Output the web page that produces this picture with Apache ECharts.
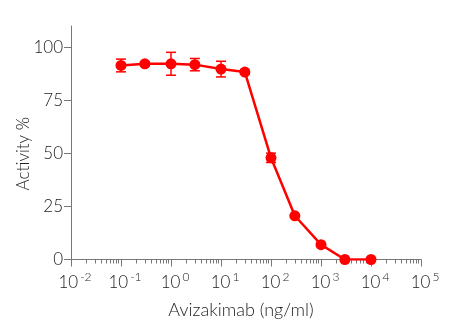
<!DOCTYPE html>
<html>
<head>
<meta charset="utf-8">
<script src="https://cdn.jsdelivr.net/npm/echarts@6/dist/echarts.min.js"></script>
<style>
html,body{margin:0;padding:0;background:#fff;}
#c{width:450px;height:332px;}
</style>
</head>
<body>
<div id="c"></div>
<script>
// Data
var concentrations = [0.1, 0.3, 1, 3, 10, 30, 100, 300, 1000, 3000, 10000];
var activity = [91.4, 92.2, 92.2, 91.8, 89.7, 88.3, 47.9, 20.6, 7.0, 0, 0];
var errors = [3.0, 1.0, 5.4, 2.9, 3.7, 1.0, 2.2, 0.5, 0.5, 0, 0];
var yTicks = [0, 25, 50, 75, 100];
var xMajorTicks = [0.01, 0.1, 1, 10, 100, 1000, 10000, 100000];
var xMinorTicks = [];
for (var d = -2; d < 5; d++) {
  for (var m = 2; m <= 9; m++) xMinorTicks.push(+(m * Math.pow(10, d)).toPrecision(3));
}

var RED = '#ff0000';
var AXIS = '#777777';
var TEXT = '#222222';
var FONT = 'Lato';

var lineData = concentrations.map(function (c, i) { return [c, activity[i]]; });
var errData = concentrations.map(function (c, i) { return [c, activity[i], errors[i]]; });

var chart = echarts.init(document.getElementById('c'), null, {renderer: 'canvas'});
chart.setOption({
  animation: false,
  backgroundColor: '#fff',
  textStyle: {fontFamily: FONT},
  grid: {left: 71, right: 29, top: 26, bottom: 72.5, containLabel: false},
  xAxis: [{
    type: 'log',
    logBase: 10,
    min: 0.01,
    max: 100000,
    name: 'Avizakimab (ng/ml)',
    nameLocation: 'middle',
    nameGap: 42,
    nameMoveOverlap: false,
    nameTextStyle: {fontFamily: FONT, fontSize: 18, color: TEXT, fontWeight: 300, padding: [0, 10, 0, 0]},
    axisLine: {show: true, lineStyle: {color: AXIS, width: 1}},
    axisTick: {show: true, length: 7, lineStyle: {color: AXIS, width: 1}, customValues: xMajorTicks},
    splitLine: {show: false},
    axisLabel: {
      customValues: xMajorTicks,
      margin: 12,
      color: TEXT,
      fontFamily: FONT,
      fontSize: 17,
      fontWeight: 300,
      formatter: function (v) {
        var e = Math.round(Math.log(v) / Math.LN10);
        return '{b|10}{s|' + e + '}';
      },
      rich: {
        b: {fontSize: 17, fontFamily: FONT, fontWeight: 300, color: TEXT, lineHeight: 20, verticalAlign: 'bottom', padding: [0, 0, 0, 8]},
        s: {fontSize: 12, fontFamily: FONT, fontWeight: 300, color: TEXT, lineHeight: 12, verticalAlign: 'top', padding: [0, 0, 0, 2]}
      }
    }
  }, {
    type: 'log',
    logBase: 10,
    min: 0.01,
    max: 100000,
    position: 'bottom',
    gridIndex: 0,
    axisLine: {show: false},
    axisTick: {show: true, length: 4, lineStyle: {color: AXIS, width: 1}, customValues: xMinorTicks},
    axisLabel: {show: false},
    splitLine: {show: false}
  }],
  yAxis: {
    type: 'value',
    min: 0,
    max: 110,
    interval: 25,
    name: 'Activity %',
    nameLocation: 'middle',
    nameGap: 39,
    nameMoveOverlap: false,
    nameRotate: 90,
    nameTextStyle: {fontFamily: FONT, fontSize: 17, color: TEXT, fontWeight: 300, padding: [0, 22, 0, 0]},
    axisLine: {show: true, lineStyle: {color: AXIS, width: 1}},
    axisTick: {show: true, length: 7, lineStyle: {color: AXIS, width: 1}, customValues: yTicks},
    splitLine: {show: false},
    axisLabel: {customValues: yTicks, margin: 8, color: TEXT, fontFamily: FONT, fontSize: 17, fontWeight: 300}
  },
  series: [{
    type: 'line',
    data: lineData,
    symbol: 'circle',
    symbolSize: 11,
    itemStyle: {color: RED},
    lineStyle: {color: RED, width: 2.5},
    z: 3
  }, {
    type: 'custom',
    data: errData,
    z: 2,
    renderItem: function (params, api) {
      var x = api.value(0), y = api.value(1), e = api.value(2);
      if (!e) return null;
      var top = api.coord([x, y + e]);
      var bot = api.coord([x, y - e]);
      var hw = 5;
      var st = {stroke: RED, lineWidth: 1.5};
      return {
        type: 'group',
        children: [
          {type: 'line', shape: {x1: top[0], y1: top[1], x2: bot[0], y2: bot[1]}, style: st},
          {type: 'line', shape: {x1: top[0] - hw, y1: top[1], x2: top[0] + hw, y2: top[1]}, style: st},
          {type: 'line', shape: {x1: bot[0] - hw, y1: bot[1], x2: bot[0] + hw, y2: bot[1]}, style: st}
        ]
      };
    }
  }]
});
</script>
</body>
</html>
